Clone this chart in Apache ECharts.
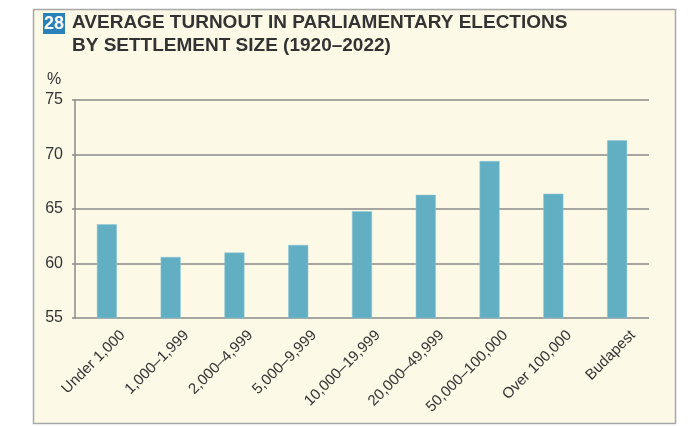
<!DOCTYPE html>
<html><head><meta charset="utf-8">
<script src="https://cdn.jsdelivr.net/npm/echarts@6/dist/echarts.min.js"></script>
<style>html,body{margin:0;padding:0;background:#fff}#c{width:689px;height:426px}</style>
</head><body><div id="c"></div>
<script>
const categories = ['Under 1,000','1,000–1,999','2,000–4,999','5,000–9,999','10,000–19,999','20,000–49,999','50,000–100,000','Over 100,000','Budapest'];
const turnout = [63.6, 60.6, 61.0, 61.7, 64.8, 66.3, 69.4, 66.4, 71.3];
const yTicks = [55, 60, 65, 70, 75];
const titleLines = ['AVERAGE TURNOUT IN PARLIAMENTARY ELECTIONS', 'BY SETTLEMENT SIZE (1920–2022)'];
const chartNumber = '28';
const unitLabel = '%';

const FONT = '"Liberation Sans", Arial, sans-serif';
const chart = echarts.init(document.getElementById('c'));
chart.setOption({
  animation: false,
  backgroundColor: '#ffffff',
  graphic: [
    {type:'rect', shape:{x:33.5,y:9.5,width:642,height:414}, style:{fill:'#fdf9e7', stroke:'#a8a8a8', lineWidth:1.5}, z:-10},
    {type:'rect', shape:{x:43,y:13,width:22,height:21}, style:{fill:'#2a80b9'}},
    {type:'text', x:54, y:24, style:{text:chartNumber, fill:'#ffffff', font:'bold 18px '+FONT, align:'center', verticalAlign:'middle'}},
    {type:'text', x:72, y:23, style:{text:titleLines[0], fill:'#333333', font:'bold 19px '+FONT, verticalAlign:'middle'}},
    {type:'text', x:72, y:46, style:{text:titleLines[1], fill:'#333333', font:'bold 19px '+FONT, verticalAlign:'middle'}},
    {type:'text', x:54, y:80, style:{text:unitLabel, fill:'#333', font:'16px '+FONT, align:'center', verticalAlign:'middle'}}
  ],
  grid: {left:75, right:40, top:100, bottom:108},
  xAxis: {
    type:'category', data:categories,
    axisLine:{show:false}, axisTick:{show:false},
    axisLabel:{rotate:45, color:'#333', fontSize:15, fontFamily:FONT, margin:-1, interval:0,
      align:'right', verticalAlign:'top', padding:[15,0,0,0]}
  },
  yAxis: {
    type:'value', min:yTicks[0], max:yTicks[yTicks.length-1], interval:5,
    axisLine:{show:true, lineStyle:{color:'#8a8a8a', width:1.5}},
    axisTick:{show:true, length:3, lineStyle:{color:'#8a8a8a', width:1.5}},
    splitLine:{lineStyle:{color:'#8a8a8a', width:1.5}},
    axisLabel:{color:'#333', fontSize:16, fontFamily:FONT, margin:12}
  },
  series: [{
    type:'bar', data:turnout, barWidth:20,
    itemStyle:{color:'#62aec3', borderColor:'#8cc6d6', borderWidth:0.5}
  }]
});
</script></body></html>
